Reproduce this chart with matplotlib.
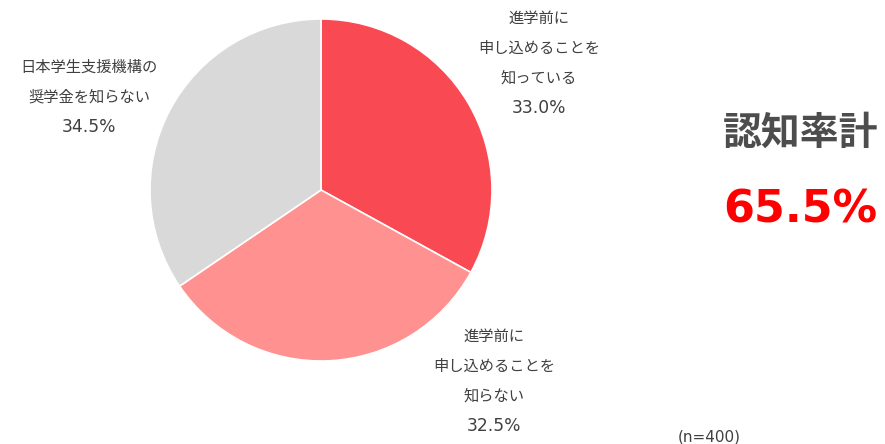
import matplotlib
matplotlib.use("Agg")
import matplotlib.pyplot as plt

plt.rcParams['font.family'] = ['Noto Sans CJK JP', 'DejaVu Sans']

# data
shares = [33.0, 32.5, 34.5]
colors = ['#F94A53', '#FF9191', '#D9D9D9']
labels = [
    ['進学前に', '申し込めることを', '知っている', '33.0%'],
    ['進学前に', '申し込めることを', '知らない', '32.5%'],
    ['日本学生支援機構の', '奨学金を知らない', '34.5%'],
]
total_title = '認知率計'
total_value = '65.5%'
n_note = '(n=400)'

W, H = 885, 444
fig = plt.figure(figsize=(W / 100, H / 100), dpi=100)
ax = fig.add_axes([0, 0, 1, 1])

# pie drawn in flipped coords -> counterclock=True looks clockwise
ax.pie(shares, colors=colors, center=(321, 190), radius=171,
       startangle=-90, counterclock=True,
       wedgeprops=dict(edgecolor='white', linewidth=1.2))
ax.set_xlim(0, W)
ax.set_ylim(H, 0)
ax.set_aspect('auto')
ax.axis('off')

txt = '#404040'
label_pos = [(539, 18), (494, 336), (89, 67)]
for (x, y0), lines in zip(label_pos, labels):
    for i, line in enumerate(lines):
        if line.endswith('%'):
            ax.text(x, y0 + i * 30, line, ha='center', va='center',
                    fontsize=12.3, color=txt, family='DejaVu Sans')
        else:
            ax.text(x, y0 + i * 30, line, ha='center', va='center',
                    fontsize=11, color=txt)

ax.text(801, 133, total_title, ha='center', va='center', fontsize=28,
        fontweight='bold', color='#4D4D4D')
ax.text(800, 210, total_value, ha='center', va='center', fontsize=32,
        fontweight='bold', color='#FF0000', family='DejaVu Sans')
ax.text(709, 437, n_note, ha='center', va='center', fontsize=11,
        color=txt, family='DejaVu Sans')

fig.savefig('out.png', dpi=100)
